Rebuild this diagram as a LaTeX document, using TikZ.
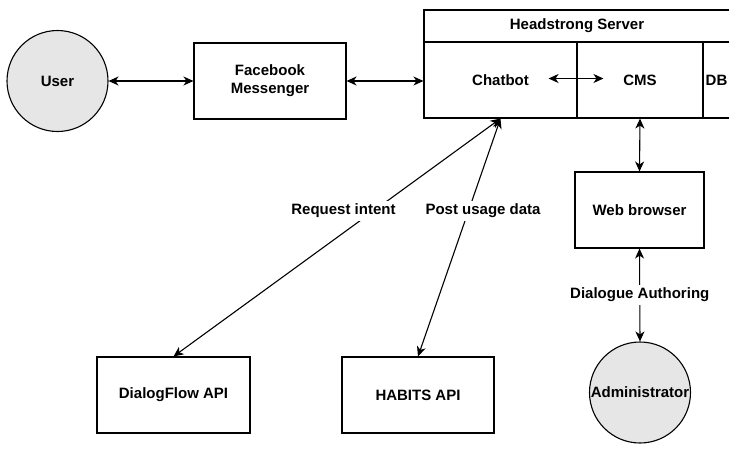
\documentclass[tikz,border=0pt]{standalone}
\usepackage{fontspec}
\setmainfont{Liberation Sans}
\usetikzlibrary{arrows.meta}
\definecolor{persongray}{HTML}{E6E6E6}
\begin{document}
\begin{tikzpicture}[x=1pt,y=-1pt,
  txt/.style={font=\bfseries\fontsize{15}{18}\selectfont, align=center},
  box/.style={txt, draw, line width=1.1pt, fill=white, inner sep=0pt},
  person/.style={txt, draw, circle, line width=1.1pt, fill=persongray, minimum size=101pt, inner sep=0pt},
  lbl/.style={txt, fill=white, inner sep=3pt},
  arr/.style={line width=1.1pt, {Stealth[length=10pt,width=9pt,inset=3pt]}-{Stealth[length=10pt,width=9pt,inset=3pt]}}
]
\useasboundingbox (0,0) rectangle (729,448);

\node[person] (user) at (57.5,81) {User};
\node[box, minimum width=152pt, minimum height=76pt] (fb) at (270,81) {Facebook\\Messenger};

\node[box, minimum width=306pt, minimum height=32pt] (title) at (577,26) {Headstrong Server};
\node[box, minimum width=153pt, minimum height=76pt] (chat) at (500.5,80) {Chatbot};
\node[box, minimum width=126pt, minimum height=76pt] (cms) at (640,80) {CMS};
\node[box, minimum width=27pt, minimum height=76pt] (db) at (716.5,80) {DB};

\node[box, minimum width=129pt, minimum height=76pt] (web) at (639.5,210) {Web browser};
\node[person] (admin) at (640,392.5) {Administrator};

\node[box, minimum width=153pt, minimum height=76pt] (dflow) at (173.5,395) {DialogFlow API};
\node[box, minimum width=152pt, minimum height=76pt] (habits) at (418,395) {HABITS API};

\draw[arr] (user.east) -- (user.east -| fb.west);
\draw[arr] (fb.east) -- (fb.east -| chat.west);
\draw[arr] ([xshift=-29pt,yshift=1.5pt]chat.east) -- ([xshift=27pt,yshift=1.5pt]cms.west);
\draw[arr] (cms.south) -- (web.north);
\draw[arr] (web.south) -- (admin.north) node[lbl, midway] {Dialogue Authoring};
\draw[arr] (chat.south) -- (dflow.north) node[lbl, pos=0.387, xshift=-30.5pt] {Request intent};
\draw[arr] (chat.south) -- (habits.north) node[lbl, pos=0.387, xshift=14.5pt] {Post usage data};
\end{tikzpicture}
\end{document}
